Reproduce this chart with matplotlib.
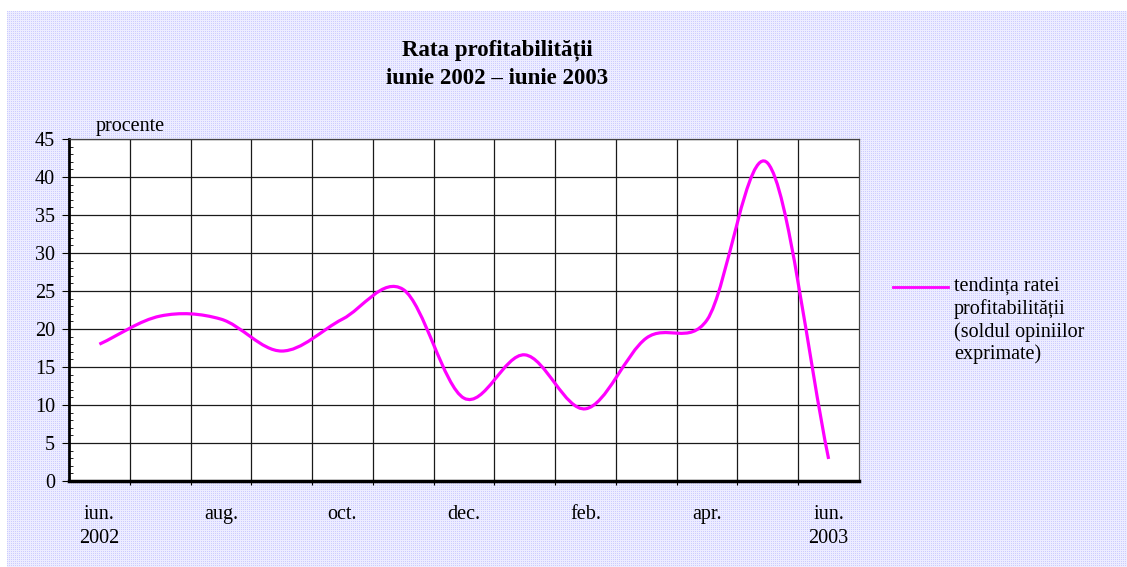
import numpy as np
import matplotlib.pyplot as plt
from matplotlib.path import Path
from matplotlib.patches import PathPatch
from matplotlib.lines import Line2D

# data (monthly, June 2002 - June 2003)
month_labels = ['iun.\n2002', '', 'aug.', '', 'oct.', '', 'dec.', '', 'feb.', '', 'apr.', '', 'iun.\n2003']
values = [18.0, 21.7, 21.3, 17.1, 21.3, 25.2, 10.9, 16.6, 9.5, 18.8, 21.2, 41.8, 2.9]
y_ticks = list(range(0, 46, 5))
series_name = 'tendința ratei\nprofitabilității\n(soldul opiniilor\nexprimate)'
title = 'Rata profitabilității\niunie 2002 – iunie 2003'

plt.rcParams['font.family'] = ['Liberation Serif', 'DejaVu Serif']

W, H = 1127, 567
fig = plt.figure(figsize=(W / 100, H / 100), dpi=100, facecolor='white')

# dotted lavender background (starts a few px in from top/left like the original)
bh, bw = H - 11, W - 7
bg = np.empty((bh, bw, 3))
bg[:] = (0.93, 0.93, 1.0)
bg[::2, ::2] = (0.80, 0.80, 1.0)
fig.figimage(bg, xo=7, yo=0, origin='upper', zorder=-10)


def px(x, y):
    return x / W, 1 - y / H


left, top, right, bottom = 69, 139, 859, 481
ax = fig.add_axes([left / W, 1 - bottom / H, (right - left) / W, (bottom - top) / H])
ax.set_facecolor('white')

n = len(values)
xs = np.arange(n)
ax.set_xlim(-0.5, n - 0.5)
ax.set_ylim(0, 45)

# x: gridlines / ticks at category boundaries, labels at centres
ax.set_xticks(np.arange(0.5, n - 0.5, 1))
ax.set_xticklabels([])
ax.set_xticks(xs, minor=True)
ax.set_xticklabels(month_labels, minor=True, fontsize=14.5, linespacing=1.35)
ax.tick_params(axis='x', which='major', direction='out', length=3, width=0.8)
ax.tick_params(axis='x', which='minor', length=0, pad=17.5)

ax.set_yticks(y_ticks)
ax.set_yticks(range(0, 46), minor=True)
ax.tick_params(axis='y', which='major', direction='out', length=5, width=0.8, labelsize=14.5, pad=5)
ax.tick_params(axis='y', which='minor', direction='in', length=3, width=0.6)

ax.grid(True, which='major', color='#1a1a1a', linewidth=0.9)
ax.set_axisbelow(True)

ax.spines['left'].set_linewidth(2)
ax.spines['bottom'].set_linewidth(2.5)
for s in ('top', 'right'):
    ax.spines[s].set_linewidth(0.9)
    ax.spines[s].set_color('#444444')


# smoothed line in Excel style (cubic Bezier through the points, built in display space)
def smooth_path(points):
    verts = [points[0]]
    codes = [Path.MOVETO]
    m = len(points)
    for i in range(m - 1):
        p1, p2 = points[i], points[i + 1]
        p0 = points[i - 1] if i > 0 else p1
        p3 = points[i + 2] if i + 2 < m else p2
        d12 = np.hypot(*(p2 - p1))
        d02 = np.hypot(*(p2 - p0))
        d13 = np.hypot(*(p3 - p1))
        f = 1 / 6 if i > 0 else 1 / 3
        g = 1 / 6 if i + 2 < m else 1 / 3
        if d02 * f > d12 / 2:
            f = d12 / d02 / 2
        if d13 * g > d12 / 2:
            g = d12 / d13 / 2
        verts += [p1 + f * (p2 - p0), p2 - g * (p3 - p1), p2]
        codes += [Path.CURVE4] * 3
    return np.array(verts), codes


disp = ax.transData.transform(np.column_stack([xs, values]))
verts, codes = smooth_path(disp)
verts = ax.transData.inverted().transform(verts)
ax.add_patch(PathPatch(Path(verts, codes), fill=False, edgecolor='#ff00ff',
                       linewidth=2.3, capstyle='butt', zorder=3))

# title and unit label
fig.text(*px(497, 64), title, ha='center', va='center', fontsize=16.5,
         fontweight='bold', linespacing=1.42)
fig.text(*px(96, 126), 'procente', ha='left', va='center', fontsize=14.5)

# legend
fig.add_artist(Line2D([893 / W, 948 / W], [1 - 287 / H] * 2, color='#ff00ff',
                      linewidth=2, transform=fig.transFigure))
fig.text(*px(954, 277), series_name, ha='left', va='top', fontsize=14.5,
         linespacing=1.2)

fig.savefig('out.png', dpi=100, facecolor=fig.get_facecolor())
